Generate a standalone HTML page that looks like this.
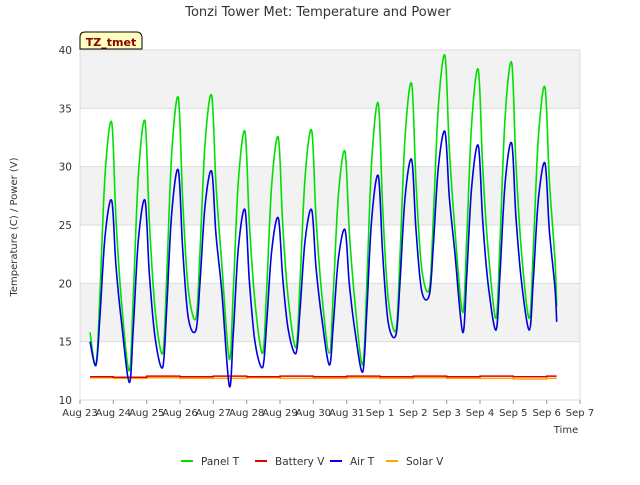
<!DOCTYPE html>
<html><head><meta charset="utf-8"><style>
body{margin:0;background:#fff;font-family:"Liberation Sans",sans-serif}
svg text{font-family:"DejaVu Sans","Liberation Sans",sans-serif}
</style></head><body>
<svg id="c" width="640" height="480" viewBox="0 0 640 480">
<text x="318" y="16" text-anchor="middle" font-size="13" fill="#333">Tonzi Tower Met: Temperature and Power</text>
<g id="bands"></g><g id="grid"></g><g id="series"></g><g id="axes"></g>
<text transform="translate(17,227) rotate(-90)" text-anchor="middle" font-size="10" fill="#333">Temperature (C) / Power (V)</text>
<text x="566" y="433" text-anchor="middle" font-size="10" fill="#333">Time</text>
<g>
<path d="M80,49 L80,37 Q80,32 85,32 L137,32 Q141,32 142,37 L142,49 Z" fill="#ffffc0" stroke="#000"/>
<text x="111" y="46" text-anchor="middle" font-size="11" font-weight="bold" fill="#8b0000">TZ_tmet</text>
</g>
<g id="legend"></g>
</svg>
<script>
const xTicks=["Aug 23","Aug 24","Aug 25","Aug 26","Aug 27","Aug 28","Aug 29","Aug 30","Aug 31","Sep 1","Sep 2","Sep 3","Sep 4","Sep 5","Sep 6","Sep 7"];
const yTicks=[10,15,20,25,30,35,40];
const panelPeaks=[33.8,33.9,35.9,36.1,33.0,32.5,33.1,31.3,35.4,37.1,39.5,38.3,38.9,36.8];
const panelTroughs=[13.0,12.5,14.0,17.0,13.5,14.0,14.5,14.0,13.0,16.0,19.5,17.5,17.0,17.0];
const panelStart=15.8, panelEnd=18.0;
const airPeaks=[27.1,27.1,29.7,29.6,26.3,25.6,26.3,24.6,29.2,30.6,33.0,31.8,32.0,30.3];
const airTroughs=[13.0,11.5,12.8,16.0,11.2,12.8,14.0,13.0,12.4,15.6,19.0,15.8,16.0,16.0];
const airStart=15.0, airEnd=16.7;
const batteryV=[12.0,11.95,12.05,12.0,12.05,12.0,12.05,12.0,12.05,12.0,12.05,12.0,12.05,12.0,12.05];
const solarV=[11.9,11.85,11.9,11.85,11.85,11.9,11.85,11.85,11.9,11.85,11.9,11.85,11.85,11.8,11.85];
const X0=80,X1=580,Y0=400,Y1=50;
const xs=d=>X0+d*(X1-X0)/15;
const ys=v=>Y0-(v-10)*(Y0-Y1)/30;
const NS="http://www.w3.org/2000/svg";
function mk(tag,parent,attrs){const e=document.createElementNS(NS,tag);for(const k in attrs)e.setAttribute(k,attrs[k]);document.getElementById(parent).appendChild(e);return e;}
for(let i=0;i<6;i++){const lo=10+i*5;
 const r=mk('rect','bands',{x:X0,y:ys(lo+5),width:X1-X0,height:ys(lo)-ys(lo+5),fill:i%2?'#f2f2f2':'#fff'});
 
 }
yTicks.forEach(v=>{const l=mk('line','grid',{x1:X0,x2:X1,y1:ys(v),y2:ys(v),stroke:'#dcdcdc'});
 
 
 const t=mk('text','axes',{x:X0-8,y:ys(v)+4,'text-anchor':'end','font-size':10.5,fill:'#333'});t.textContent=v;
 
 });
const fr=mk('rect','grid',{x:X0,y:Y1,width:X1-X0,height:Y0-Y1,fill:'none',stroke:'#dcdcdc'});


xTicks.forEach((s,i)=>{const t=mk('text','axes',{x:xs(i),y:Y0+16,'text-anchor':'middle','font-size':10,fill:'#333'});t.textContent=s;
 
 
 const tk=mk('line','axes',{x1:xs(i),x2:xs(i),y1:Y0,y2:Y0+4,stroke:'#999'});
 
 });
function tempPts(start,tr,pk,end){const p=[[0.3,start]];
 for(let i=0;i<pk.length;i++){const lo=tr[i],hi=pk[i];
  p.push([i+0.48,lo]);p.push([i+0.6,lo+(hi-lo)*0.3]);p.push([i+0.75,lo+(hi-lo)*0.78]);
  p.push([i+0.95,hi]);p.push([i+1.08,lo+(hi-lo)*0.6]);p.push([i+1.25,lo+(hi-lo)*0.25]);}
 p.push([14.3,end]);return p;}
function path(pts){return pts.map((q,i)=>(i?'L':'M')+xs(q[0]).toFixed(1)+','+ys(q[1]).toFixed(1)).join(' ');}
function smooth(pts){const P=pts.map(q=>[xs(q[0]),ys(q[1])]);let d='M'+P[0][0].toFixed(1)+','+P[0][1].toFixed(1);
 for(let i=0;i<P.length-1;i++){const p0=P[Math.max(0,i-1)],p1=P[i],p2=P[i+1],p3=P[Math.min(P.length-1,i+2)];
  const c1=[p1[0]+(p2[0]-p0[0])/6,p1[1]+(p2[1]-p0[1])/6],c2=[p2[0]-(p3[0]-p1[0])/6,p2[1]-(p3[1]-p1[1])/6];
  d+=' C'+c1.map(v=>v.toFixed(1)).join(',')+' '+c2.map(v=>v.toFixed(1)).join(',')+' '+p2.map(v=>v.toFixed(1)).join(',');}
 return d;}
function stepPts(arr){const p=[];arr.forEach((v,i)=>{p.push([Math.max(0.3,i),v]);p.push([Math.min(14.3,i+1),v]);});return p;}
const s1=mk('path','series',{d:path(stepPts(solarV)),fill:'none',stroke:'#ffa500','stroke-width':1.5});


const s2=mk('path','series',{d:path(stepPts(batteryV)),fill:'none',stroke:'#e00000','stroke-width':1.5});


const s3=mk('path','series',{d:smooth(tempPts(panelStart,panelTroughs,panelPeaks,panelEnd)),fill:'none',stroke:'#00e000','stroke-width':1.6,'stroke-linejoin':'round'});


const s4=mk('path','series',{d:smooth(tempPts(airStart,airTroughs,airPeaks,airEnd)),fill:'none',stroke:'#0000e0','stroke-width':1.6,'stroke-linejoin':'round'});


const leg=[["Panel T","#00e000",181],["Battery V","#e00000",255],["Air T","#0000e0",330],["Solar V","#ffa500",386]];
leg.forEach(L=>{const l=mk('line','legend',{x1:L[2],x2:L[2]+12,y1:461,y2:461,stroke:L[1],'stroke-width':2});
 
 
 const t=mk('text','legend',{x:L[2]+20,y:465,'font-size':10.5,fill:'#333'});t.textContent=L[0];
 
 });
</script>
</body></html>
